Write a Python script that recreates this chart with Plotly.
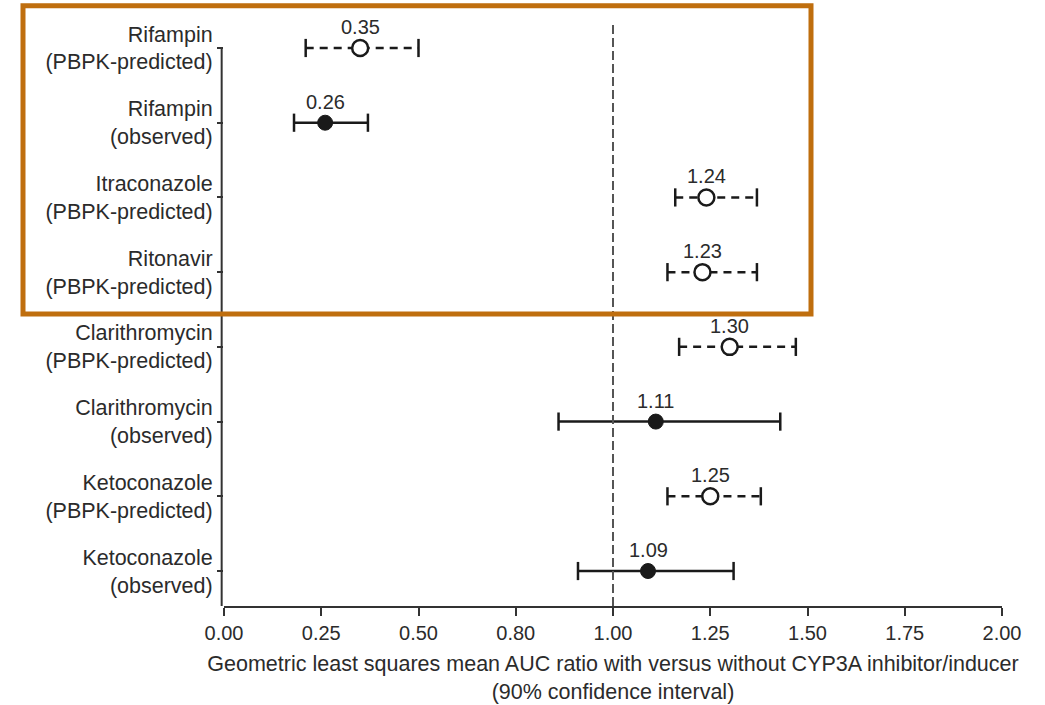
import plotly.graph_objects as go

# ---- data ----
drugs = ["Rifampin", "Rifampin", "Itraconazole", "Ritonavir",
         "Clarithromycin", "Clarithromycin", "Ketoconazole", "Ketoconazole"]
kinds = ["PBPK-predicted", "observed", "PBPK-predicted", "PBPK-predicted",
         "PBPK-predicted", "observed", "PBPK-predicted", "observed"]
ratio = [0.35, 0.26, 1.24, 1.23, 1.30, 1.11, 1.25, 1.09]
ci_low = [0.21, 0.18, 1.16, 1.14, 1.17, 0.86, 1.14, 0.91]
ci_high = [0.50, 0.37, 1.37, 1.37, 1.47, 1.43, 1.38, 1.31]
ratio_text = ["0.35", "0.26", "1.24", "1.23", "1.30", "1.11", "1.25", "1.09"]
x_tickvals = [0.0, 0.25, 0.5, 0.75, 1.0, 1.25, 1.5, 1.75, 2.0]
x_ticktext = ["0.00", "0.25", "0.50", "0.80", "1.00", "1.25", "1.50", "1.75", "2.00"]

FONT = "Liberation Sans, Arial, Helvetica, sans-serif"
TXT = "#2b2b2b"
INK = "#1a1a1a"

rows = list(range(len(drugs)))
ylabels = [f"{d}<br>({k})" for d, k in zip(drugs, kinds)]

fig = go.Figure()

for i in rows:
    pred = kinds[i] == "PBPK-predicted"
    # CI line
    fig.add_trace(go.Scatter(
        x=[ci_low[i], ci_high[i]], y=[i, i], mode="lines",
        line=dict(color=INK, width=2.5, dash="8px,6px" if pred else "solid"),
        hoverinfo="skip", showlegend=False))
    # caps
    fig.add_trace(go.Scatter(
        x=[ci_low[i], ci_high[i]], y=[i, i], mode="markers",
        marker=dict(symbol="line-ns", size=13, line=dict(color=INK, width=2.5)),
        hoverinfo="skip", showlegend=False))
    # point
    fig.add_trace(go.Scatter(
        x=[ratio[i]], y=[i], mode="markers",
        marker=dict(symbol="circle", size=16 if pred else 15,
                    color="white" if pred else INK,
                    line=dict(color=INK, width=2.5 if pred else 1)),
        showlegend=False))
    fig.add_annotation(x=ratio[i], y=i, text=ratio_text[i], showarrow=False,
                       yshift=21, font=dict(family=FONT, size=20, color=TXT))

ymin, ymax = -0.321, 7.468

# reference line at 1.0
fig.add_shape(type="line", xref="x", yref="paper", x0=1, x1=1, y0=0, y1=1,
              line=dict(color="#555555", width=2, dash="9px,4px"))
# y axis line (starts at first row)
fig.add_shape(type="line", xref="paper", yref="y", x0=-0.003, x1=-0.003, y0=0, y1=ymax,
              line=dict(color="#333333", width=2))

# highlight box (pixel positions converted to paper coords)
L, R, T, B = 224, 1002, 24, 606
def px(xp):
    return (xp - L) / (R - L)
def py(yp):
    return (B - yp) / (B - T)
fig.add_shape(type="rect", xref="paper", yref="paper",
              x0=px(23), x1=px(811), y0=py(314), y1=py(5.8),
              line=dict(color="#BF6E0E", width=5), fillcolor="rgba(0,0,0,0)")

fig.update_xaxes(
    range=[0, 2], tickvals=x_tickvals, ticktext=x_ticktext,
    showline=True, linecolor="#333333", linewidth=2,
    ticks="outside", ticklen=8, tickwidth=2, tickcolor="#333333",
    showgrid=False, zeroline=False,
    tickfont=dict(family=FONT, size=20, color=TXT),
    title=dict(text="Geometric least squares mean AUC ratio with versus without CYP3A inhibitor/inducer<br>(90% confidence interval)",
               font=dict(family=FONT, size=21.5, color=TXT), standoff=13),
)
fig.update_yaxes(
    range=[ymax, ymin], tickvals=rows, ticktext=ylabels,
    showline=False, ticks="outside", ticklen=6, tickwidth=2, tickcolor="#333333",
    showgrid=False, zeroline=False,
    tickfont=dict(family=FONT, size=21.5, color=TXT),
)

fig.update_layout(
    width=1045, height=705,
    margin=dict(l=L, r=1045 - R, t=T, b=705 - B, autoexpand=False),
    plot_bgcolor="white", paper_bgcolor="white",
    font=dict(family=FONT, color=TXT),
)

fig.write_html("out.html")
